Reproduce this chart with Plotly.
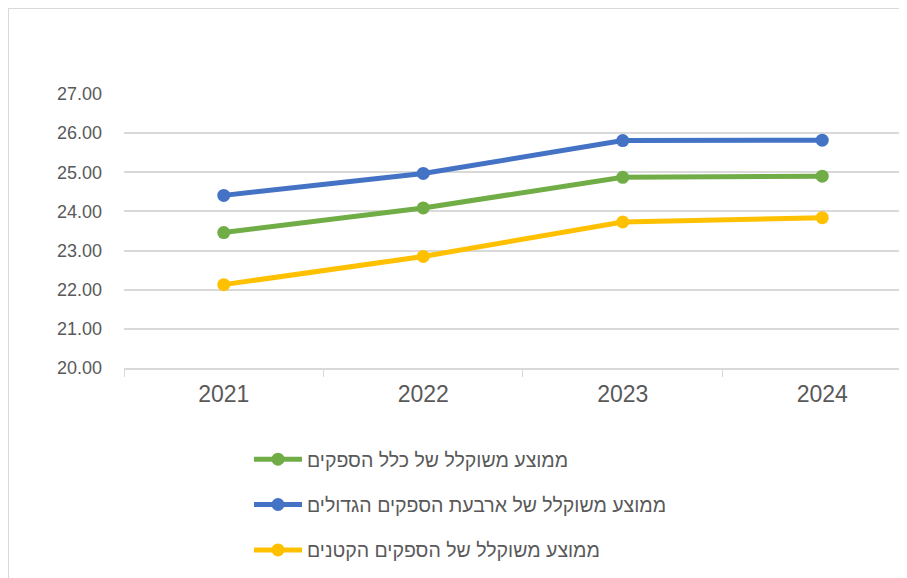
import plotly.graph_objects as go

years = ["2021", "2022", "2023", "2024"]
all_suppliers = [23.46, 24.09, 24.87, 24.90]
big_four = [24.41, 24.97, 25.81, 25.82]
small_suppliers = [22.13, 22.85, 23.73, 23.84]

names = [
    "ממוצע משוקלל של כלל הספקים",
    "ממוצע משוקלל של ארבעת הספקים הגדולים",
    "ממוצע משוקלל של הספקים הקטנים",
]
series = [all_suppliers, big_four, small_suppliers]
colors = ["#70AD47", "#4472C4", "#FFC000"]
y_ticks = [20, 21, 22, 23, 24, 25, 26, 27]

W, H = 899, 570
L, R, T, B = 116, 0, 86, 210

fig = go.Figure()
for i, (nm, vals, col) in enumerate(zip(names, series, colors)):
    fig.add_trace(go.Scatter(
        x=years, y=vals, name=nm, mode="lines+markers",
        line=dict(color=col, width=5),
        marker=dict(color=col, size=13),
        legendgroup="g%d" % i,
    ))

pw = W - L - R
ph = H - T - B
fig.add_shape(type="rect", xref="paper", yref="paper",
              x0=(0 - L) / pw, x1=1.3, y0=-1.5, y1=(H - B - 0) / ph,
              line=dict(color="#d9d9d9", width=2), fillcolor="rgba(0,0,0,0)",
              layer="below")

fig.update_layout(
    width=W, height=H,
    margin=dict(l=L, r=R, t=T, b=B, pad=0, autoexpand=False),
    paper_bgcolor="white", plot_bgcolor="white",
    font=dict(family="Liberation Sans, Arial, sans-serif", size=18, color="#595959"),
    showlegend=True,
    legend=dict(
        orientation="v", xref="container", yref="container",
        x=241 / W, y=1 - 432 / H, xanchor="left", yanchor="top",
        font=dict(size=19.5, color="#595959"),
        tracegroupgap=17, itemwidth=48,
        bgcolor="rgba(0,0,0,0)",
    ),
    xaxis=dict(
        type="category", range=[-0.5, 3.425], automargin=False,
        showgrid=False, showline=True, linecolor="#d9d9d9", linewidth=2,
        ticks="outside", tickson="boundaries", ticklen=7, tickcolor="#d9d9d9",
        tickwidth=1,
        tickfont=dict(family="Liberation Sans Narrow, Arial Narrow, sans-serif",
                      size=23, color="#595959"),
        ticklabelstandoff=4,
    ),
    yaxis=dict(
        range=[20, 27], tickvals=y_ticks, automargin=False,
        tickformat=".2f", showgrid=True, gridcolor="#d9d9d9", gridwidth=2,
        showline=False, zeroline=False, ticks="",
        tickfont=dict(size=18, color="#595959"),
        ticklabelstandoff=21,
    ),
)

fig.write_html("out.html")
